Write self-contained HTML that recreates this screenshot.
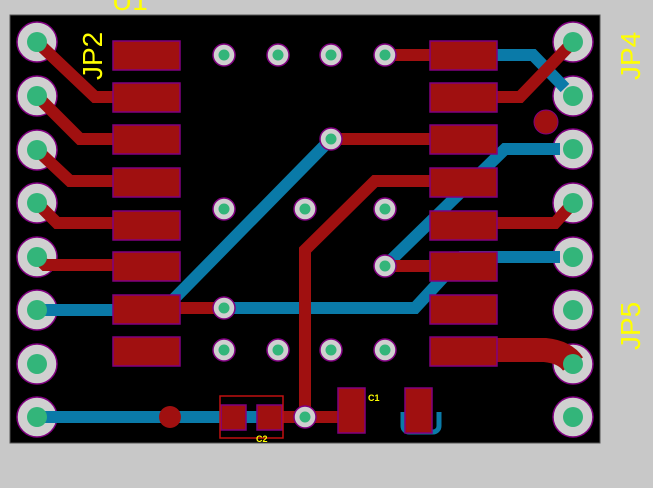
<!DOCTYPE html>
<html><head><style>
html,body{margin:0;padding:0;background:#c8c8c8;width:653px;height:488px;overflow:hidden}
svg{display:block}
text{font-family:"Liberation Sans",sans-serif;fill:#ffff00}
</style></head><body>
<svg width="653" height="488" viewBox="0 0 653 488">
<rect x="0" y="0" width="653" height="488" fill="#c8c8c8"/>
<rect x="10" y="15" width="590" height="428" fill="#000"/>
<rect x="10" y="15" width="590" height="428" fill="none" stroke="#555" stroke-width="1"/>

<!-- header pin rings -->
<g stroke="#800080" stroke-width="1.5" fill="#d0d0d0">
<circle cx="37" cy="42" r="20"/><circle cx="37" cy="96" r="20"/><circle cx="37" cy="150" r="20"/><circle cx="37" cy="203" r="20"/>
<circle cx="37" cy="257" r="20"/><circle cx="37" cy="310" r="20"/><circle cx="37" cy="364" r="20"/><circle cx="37" cy="417" r="20"/>
<circle cx="573" cy="42" r="20"/><circle cx="573" cy="96" r="20"/><circle cx="573" cy="149" r="20"/><circle cx="573" cy="203" r="20"/>
<circle cx="573" cy="257" r="20"/><circle cx="573" cy="310" r="20"/><circle cx="573" cy="364" r="20"/><circle cx="573" cy="417" r="20"/>
</g>

<!-- blue traces -->
<g stroke="#0a7aa8" stroke-width="12" fill="none" stroke-linejoin="miter">
<polyline points="37,310 120,310"/>
<polyline points="165,308 331,139"/>
<polyline points="224,308 415,308 462,257 560,257"/>
<polyline points="385,266 505,149 560,149"/>
<polyline points="490,55 533,55 565,88"/>
<polyline points="37,417 270,417"/>
<path d="M403,412 v14 a6,6 0 0 0 6,6 h24 a6,6 0 0 0 6,-6 v-14" stroke-width="5"/>
</g>

<!-- red traces -->
<g stroke="#a01010" stroke-width="12" fill="none">
<polyline points="37,42 95,97 130,97"/>
<polyline points="37,96 80,139 130,139"/>
<polyline points="37,150 70,181 130,181"/>
<polyline points="37,203 57,223 130,223"/>
<polyline points="37,257 45,265 130,265"/>
<polyline points="170,308 224,308"/>
<polyline points="385,55 440,55"/>
<polyline points="331,139 440,139"/>
<polyline points="440,181 375,181 305,250 305,417"/>
<polyline points="385,266 440,266"/>
<polyline points="480,97 520,97 573,42"/>
<polyline points="480,223 555,223 573,203"/>
<polyline points="270,417 350,417"/>
<path d="M480,350 H545 Q565,352 573,364" stroke-width="24"/>
</g>
<circle cx="170" cy="417" r="11" fill="#a01010"/>
<circle cx="546" cy="122" r="12" fill="#a01010" stroke="#800080" stroke-width="1"/>

<!-- pads -->
<g fill="#a01010" stroke="#800080" stroke-width="1.5">
<rect x="113" y="41" width="67" height="29"/>
<rect x="113" y="83" width="67" height="29"/>
<rect x="113" y="125" width="67" height="29"/>
<rect x="113" y="168" width="67" height="29"/>
<rect x="113" y="211" width="67" height="29"/>
<rect x="113" y="252" width="67" height="29"/>
<rect x="113" y="295" width="67" height="29"/>
<rect x="113" y="337" width="67" height="29"/>
<rect x="430" y="41" width="67" height="29"/>
<rect x="430" y="83" width="67" height="29"/>
<rect x="430" y="125" width="67" height="29"/>
<rect x="430" y="168" width="67" height="29"/>
<rect x="430" y="211" width="67" height="29"/>
<rect x="430" y="252" width="67" height="29"/>
<rect x="430" y="295" width="67" height="29"/>
<rect x="430" y="337" width="67" height="29"/>
<rect x="221" y="405" width="25" height="25"/>
<rect x="257" y="405" width="25" height="25"/>
<rect x="338" y="388" width="27" height="45"/>
<rect x="405" y="388" width="27" height="45"/>
</g>
<rect x="220" y="396" width="63" height="42" fill="none" stroke="#c01010" stroke-width="1.5"/>

<!-- header pin centers -->
<g fill="#33b57a">
<circle cx="37" cy="42" r="10"/><circle cx="37" cy="96" r="10"/><circle cx="37" cy="150" r="10"/><circle cx="37" cy="203" r="10"/>
<circle cx="37" cy="257" r="10"/><circle cx="37" cy="310" r="10"/><circle cx="37" cy="364" r="10"/><circle cx="37" cy="417" r="10"/>
<circle cx="573" cy="42" r="10"/><circle cx="573" cy="96" r="10"/><circle cx="573" cy="149" r="10"/><circle cx="573" cy="203" r="10"/>
<circle cx="573" cy="257" r="10"/><circle cx="573" cy="310" r="10"/><circle cx="573" cy="364" r="10"/><circle cx="573" cy="417" r="10"/>
</g>

<!-- vias -->
<g stroke="#800080" stroke-width="1.5" fill="#d0d0d0">
<circle cx="224" cy="55" r="11"/><circle cx="278" cy="55" r="11"/><circle cx="331" cy="55" r="11"/><circle cx="385" cy="55" r="11"/>
<circle cx="331" cy="139" r="11"/>
<circle cx="224" cy="209" r="11"/><circle cx="305" cy="209" r="11"/><circle cx="385" cy="209" r="11"/>
<circle cx="385" cy="266" r="11"/><circle cx="224" cy="308" r="11"/>
<circle cx="224" cy="350" r="11"/><circle cx="278" cy="350" r="11"/><circle cx="331" cy="350" r="11"/><circle cx="385" cy="350" r="11"/>
<circle cx="305" cy="417" r="11"/>
</g>
<g fill="#33b57a">
<circle cx="224" cy="55" r="5.5"/><circle cx="278" cy="55" r="5.5"/><circle cx="331" cy="55" r="5.5"/><circle cx="385" cy="55" r="5.5"/>
<circle cx="331" cy="139" r="5.5"/>
<circle cx="224" cy="209" r="5.5"/><circle cx="305" cy="209" r="5.5"/><circle cx="385" cy="209" r="5.5"/>
<circle cx="385" cy="266" r="5.5"/><circle cx="224" cy="308" r="5.5"/>
<circle cx="224" cy="350" r="5.5"/><circle cx="278" cy="350" r="5.5"/><circle cx="331" cy="350" r="5.5"/><circle cx="385" cy="350" r="5.5"/>
<circle cx="305" cy="417" r="5.5"/>
</g>

<!-- labels -->
<text x="0" y="0" font-size="28" transform="translate(102,80) rotate(-90)">JP2</text>
<text x="112" y="10" font-size="28">U1</text>
<text x="0" y="0" font-size="28" transform="translate(640,80) rotate(-90)">JP4</text>
<text x="0" y="0" font-size="28" transform="translate(640,350) rotate(-90)">JP5</text>
<text x="368" y="401" font-size="9" font-weight="bold">C1</text>
<text x="256" y="442" font-size="9" font-weight="bold">C2</text>
</svg>
</body></html>
